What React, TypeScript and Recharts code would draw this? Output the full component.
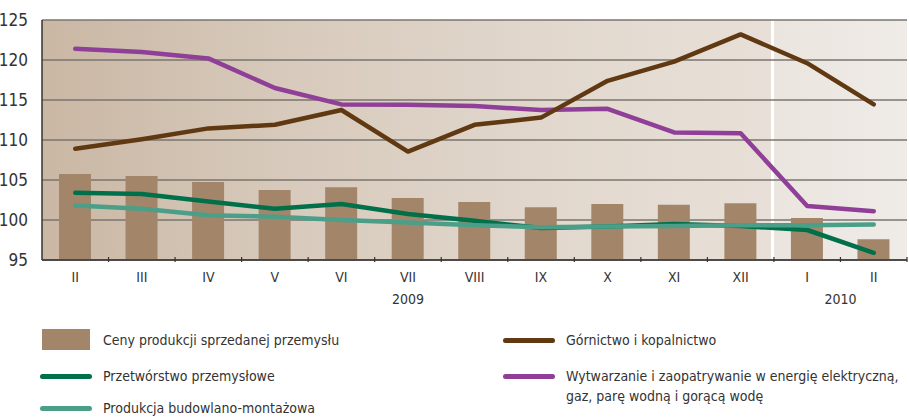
import { ComposedChart, Bar, Line, XAxis, YAxis, CartesianGrid } from "recharts";

const months = ["II", "III", "IV", "V", "VI", "VII", "VIII", "IX", "X", "XI", "XII", "I", "II"];
const years = ["", "", "", "", "", "2009", "", "", "", "", "", "2010", ""];
const ceny = [105.75, 105.5, 104.75, 103.75, 104.1, 102.75, 102.25, 101.6, 102.0, 101.9, 102.1, 100.25, 97.6];
const gornictwo = [108.9, 110.1, 111.45, 111.9, 113.75, 108.55, 111.9, 112.8, 117.4, 119.8, 123.2, 119.6, 114.45];
const wytwarzanie = [121.4, 121.0, 120.2, 116.5, 114.45, 114.4, 114.25, 113.75, 113.9, 110.95, 110.85, 101.75, 101.1];
const przetworstwo = [103.4, 103.25, 102.3, 101.4, 102.0, 100.75, 99.9, 99.0, 99.2, 99.5, 99.25, 98.75, 95.9];
const budowlano = [101.8, 101.4, 100.6, 100.4, 100.0, 99.7, 99.35, 99.1, 99.2, 99.25, 99.35, 99.35, 99.45];
const yTicks = [95, 100, 105, 110, 115, 120, 125];

const data = months.map((m, i) => ({
  m,
  year: years[i],
  ceny: ceny[i],
  gornictwo: gornictwo[i],
  wytwarzanie: wytwarzanie[i],
  przetworstwo: przetworstwo[i],
  budowlano: budowlano[i],
}));

const FONT = "'Liberation Sans Narrow', 'DejaVu Sans Condensed', sans-serif";
const BAND = 865 / months.length;

const MonthTick = (props: any) => {
  const { x, y, payload, index } = props;
  const year = years[index];
  return (
    <g>
      <line x1={x + BAND / 2} x2={x + BAND / 2} y1={y - 5} y2={y} stroke="#333" strokeWidth={1.2} />
      <text x={x} y={y + 20} textAnchor="middle" fontSize={14} fill="#333" fontFamily={FONT}>
        {payload.value}
      </text>
      {year && (
        <text
          x={year === "2010" ? x + BAND / 2 : x}
          y={y + 42}
          textAnchor="middle"
          fontSize={14}
          fill="#333"
          fontFamily={FONT}
        >
          {year}
        </text>
      )}
    </g>
  );
};

const lineSwatch = (color: string, left: number, top: number) => (
  <div
    style={{
      position: "absolute",
      left,
      top: top - 2.5,
      width: 52,
      height: 5,
      borderRadius: 3,
      background: color,
    }}
  />
);

const label = (text: string, left: number, top: number) => (
  <div style={{ position: "absolute", left, top: top - 10, fontSize: 14, lineHeight: "20px", color: "#333", whiteSpace: "nowrap" }}>
    {text}
  </div>
);

export default function App() {
  return (
    <div style={{ position: "absolute", left: 0, top: 0, width: 909, height: 417, background: "#fff", fontFamily: FONT }}>
      <ComposedChart width={909} height={310} data={data} margin={{ top: 20, right: 2, left: 0, bottom: 10 }}>
        <defs>
          <linearGradient id="bg" x1="0" y1="0" x2="1" y2="0">
            <stop offset="0" stopColor="#cab7a4" />
            <stop offset="0.3" stopColor="#d8cbbd" />
            <stop offset="0.6" stopColor="#e2d8ce" />
            <stop offset="0.843" stopColor="#e8e0d8" />
            <stop offset="0.843" stopColor="#ffffff" />
            <stop offset="0.846" stopColor="#ffffff" />
            <stop offset="0.846" stopColor="#ebe5df" />
            <stop offset="1" stopColor="#efebe7" />
          </linearGradient>
        </defs>
        <CartesianGrid vertical={false} fill="url(#bg)" stroke="#7a746e" strokeWidth={1.5} strokeOpacity={1} />
        <XAxis
          dataKey="m"
          allowDuplicatedCategory
          height={40}
          tick={MonthTick}
          tickLine={false}
          tickSize={0}
          axisLine={{ stroke: "#333", strokeWidth: 1.5 }}
          interval={0}
        />
        <YAxis
          width={42}
          domain={[95, 125]}
          ticks={yTicks}
          tickLine={false}
          tickMargin={8}
          axisLine={{ stroke: "#333", strokeWidth: 1.5 }}
          tick={{ fontSize: 17, fill: "#333", fontFamily: FONT }}
        />
        <Bar dataKey="ceny" fill="#a3866a" barSize={32} isAnimationActive={false} />
        <Line dataKey="wytwarzanie" stroke="#8f3f97" strokeWidth={4.5} dot={false} strokeLinecap="round" strokeLinejoin="round" isAnimationActive={false} />
        <Line dataKey="gornictwo" stroke="#603913" strokeWidth={4.5} dot={false} strokeLinecap="round" strokeLinejoin="round" isAnimationActive={false} />
        <Line dataKey="przetworstwo" stroke="#00704a" strokeWidth={4.5} dot={false} strokeLinecap="round" strokeLinejoin="round" isAnimationActive={false} />
        <Line dataKey="budowlano" stroke="#4b9f89" strokeWidth={4.5} dot={false} strokeLinecap="round" strokeLinejoin="round" isAnimationActive={false} />
      </ComposedChart>

      <div style={{ position: "absolute", left: 42, top: 329, width: 48, height: 21, background: "#a3866a" }} />
      {label("Ceny produkcji sprzedanej przemysłu", 103, 340)}
      {lineSwatch("#00704a", 40, 376)}
      {label("Przetwórstwo przemysłowe", 103, 376)}
      {lineSwatch("#4b9f89", 40, 408)}
      {label("Produkcja budowlano-montażowa", 103, 408)}
      {lineSwatch("#603913", 503, 340)}
      {label("Górnictwo i kopalnictwo", 566, 340)}
      {lineSwatch("#8f3f97", 503, 376)}
      {label("Wytwarzanie i zaopatrywanie w energię elektryczną,", 566, 376)}
      {label("gaz, parę wodną i gorącą wodę", 566, 396)}
    </div>
  );
}
